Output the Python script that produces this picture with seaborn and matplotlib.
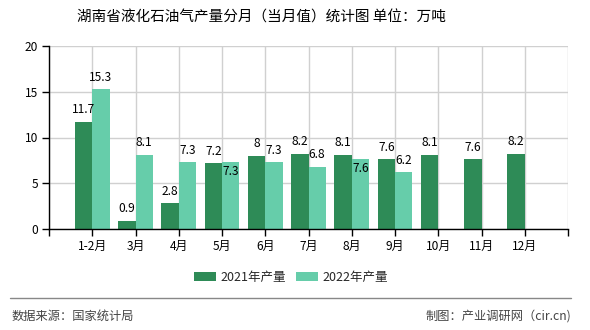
import numpy as np
import pandas as pd
import matplotlib
matplotlib.use("Agg")
import matplotlib.pyplot as plt
from matplotlib.lines import Line2D
from matplotlib.patches import Patch
import seaborn as sns

# ---- data ----
months = ["1-2月", "3月", "4月", "5月", "6月", "7月", "8月", "9月", "10月", "11月", "12月"]
prod_2021 = [11.7, 0.9, 2.8, 7.2, 8, 8.2, 8.1, 7.6, 8.1, 7.6, 8.2]
prod_2022 = [15.3, 8.1, 7.3, 7.3, 7.3, 6.8, 7.6, 6.2, None, None, None]
series_names = ["2021年产量", "2022年产量"]
inside_label_2022 = ["5月", "8月"]
title = "湖南省液化石油气产量分月（当月值）统计图 单位：万吨"
source_text = "数据来源：国家统计局"
credit_text = "制图：产业调研网（cir.cn)"

colors = ["#2E8B57", "#66CDAA"]

sns.set_style("white")
plt.rcParams["font.family"] = ["Noto Sans CJK SC", "DejaVu Sans"]

rows = []
for m, a, b in zip(months, prod_2021, prod_2022):
    rows.append({"month": m, "series": series_names[0], "value": a})
    rows.append({"month": m, "series": series_names[1], "value": b})
df = pd.DataFrame(rows).dropna()

fig = plt.figure(figsize=(5.9, 3.3), dpi=100)
ax = fig.add_axes([49 / 590, 1 - 229 / 330, (568 - 49) / 590, (229 - 46) / 330])

sns.barplot(data=df, x="month", y="value", hue="series", order=months,
            hue_order=series_names, palette=colors, saturation=1,
            width=0.8, linewidth=0, ax=ax, legend=False)

ax.set_xlim(-1, len(months))
ax.set_ylim(0, 20)
ax.set_yticks([0, 5, 10, 15, 20])
ticks = list(range(-1, len(months) + 1))
ax.set_xticks(ticks)
ax.set_xticklabels([""] + months + [""])
ax.set_xlabel("")
ax.set_ylabel("")
ax.set_axisbelow(True)
ax.grid(True, color="#d0d0d0", linewidth=1)
for s in ["top", "right"]:
    ax.spines[s].set_visible(False)
for s in ["left", "bottom"]:
    ax.spines[s].set_color("black")
    ax.spines[s].set_linewidth(1)
ax.tick_params(axis="both", direction="out", length=5, width=1, color="black",
               labelsize=8.6, labelcolor="black", pad=3, left=True, bottom=True)

# value labels
value_lists = [prod_2021, prod_2022]
for ci, cont in enumerate(ax.containers):
    vals = [v for v in value_lists[ci] if v is not None]
    mlist = [m for m, v in zip(months, value_lists[ci]) if v is not None]
    for patch, v, m in zip(cont.patches, vals, mlist):
        x = patch.get_x() + patch.get_width() / 2
        h = patch.get_height()
        if ci == 1 and m in inside_label_2022:
            off = -9
        else:
            off = 12
        ax.annotate(f"{v:g}", (x, h), xytext=(0, off), textcoords="offset pixels",
                    ha="center", va="center", fontsize=8.6, color="black")

# legend
handles = [Patch(facecolor=c, edgecolor="none") for c in colors]
fig.legend(handles, series_names, loc="center", bbox_to_anchor=(291 / 590, 1 - 277 / 330),
           ncol=2, frameon=False, fontsize=9, handlelength=1.75, handleheight=0.72,
           handletextpad=0.4, columnspacing=0.8)

fig.text(261 / 590, 1 - 18 / 330, title, ha="center", va="center", fontsize=10.5, color="black")
fig.add_artist(Line2D([10 / 590, 571 / 590], [1 - 298 / 330] * 2, color="#888888", lw=1))
fig.text(12 / 590, 1 - 316 / 330, source_text, ha="left", va="center", fontsize=8.8, color="#444444")
fig.text(571 / 590, 1 - 316 / 330, credit_text, ha="right", va="center", fontsize=8.8, color="#444444")

fig.savefig("out.png", dpi=100)
